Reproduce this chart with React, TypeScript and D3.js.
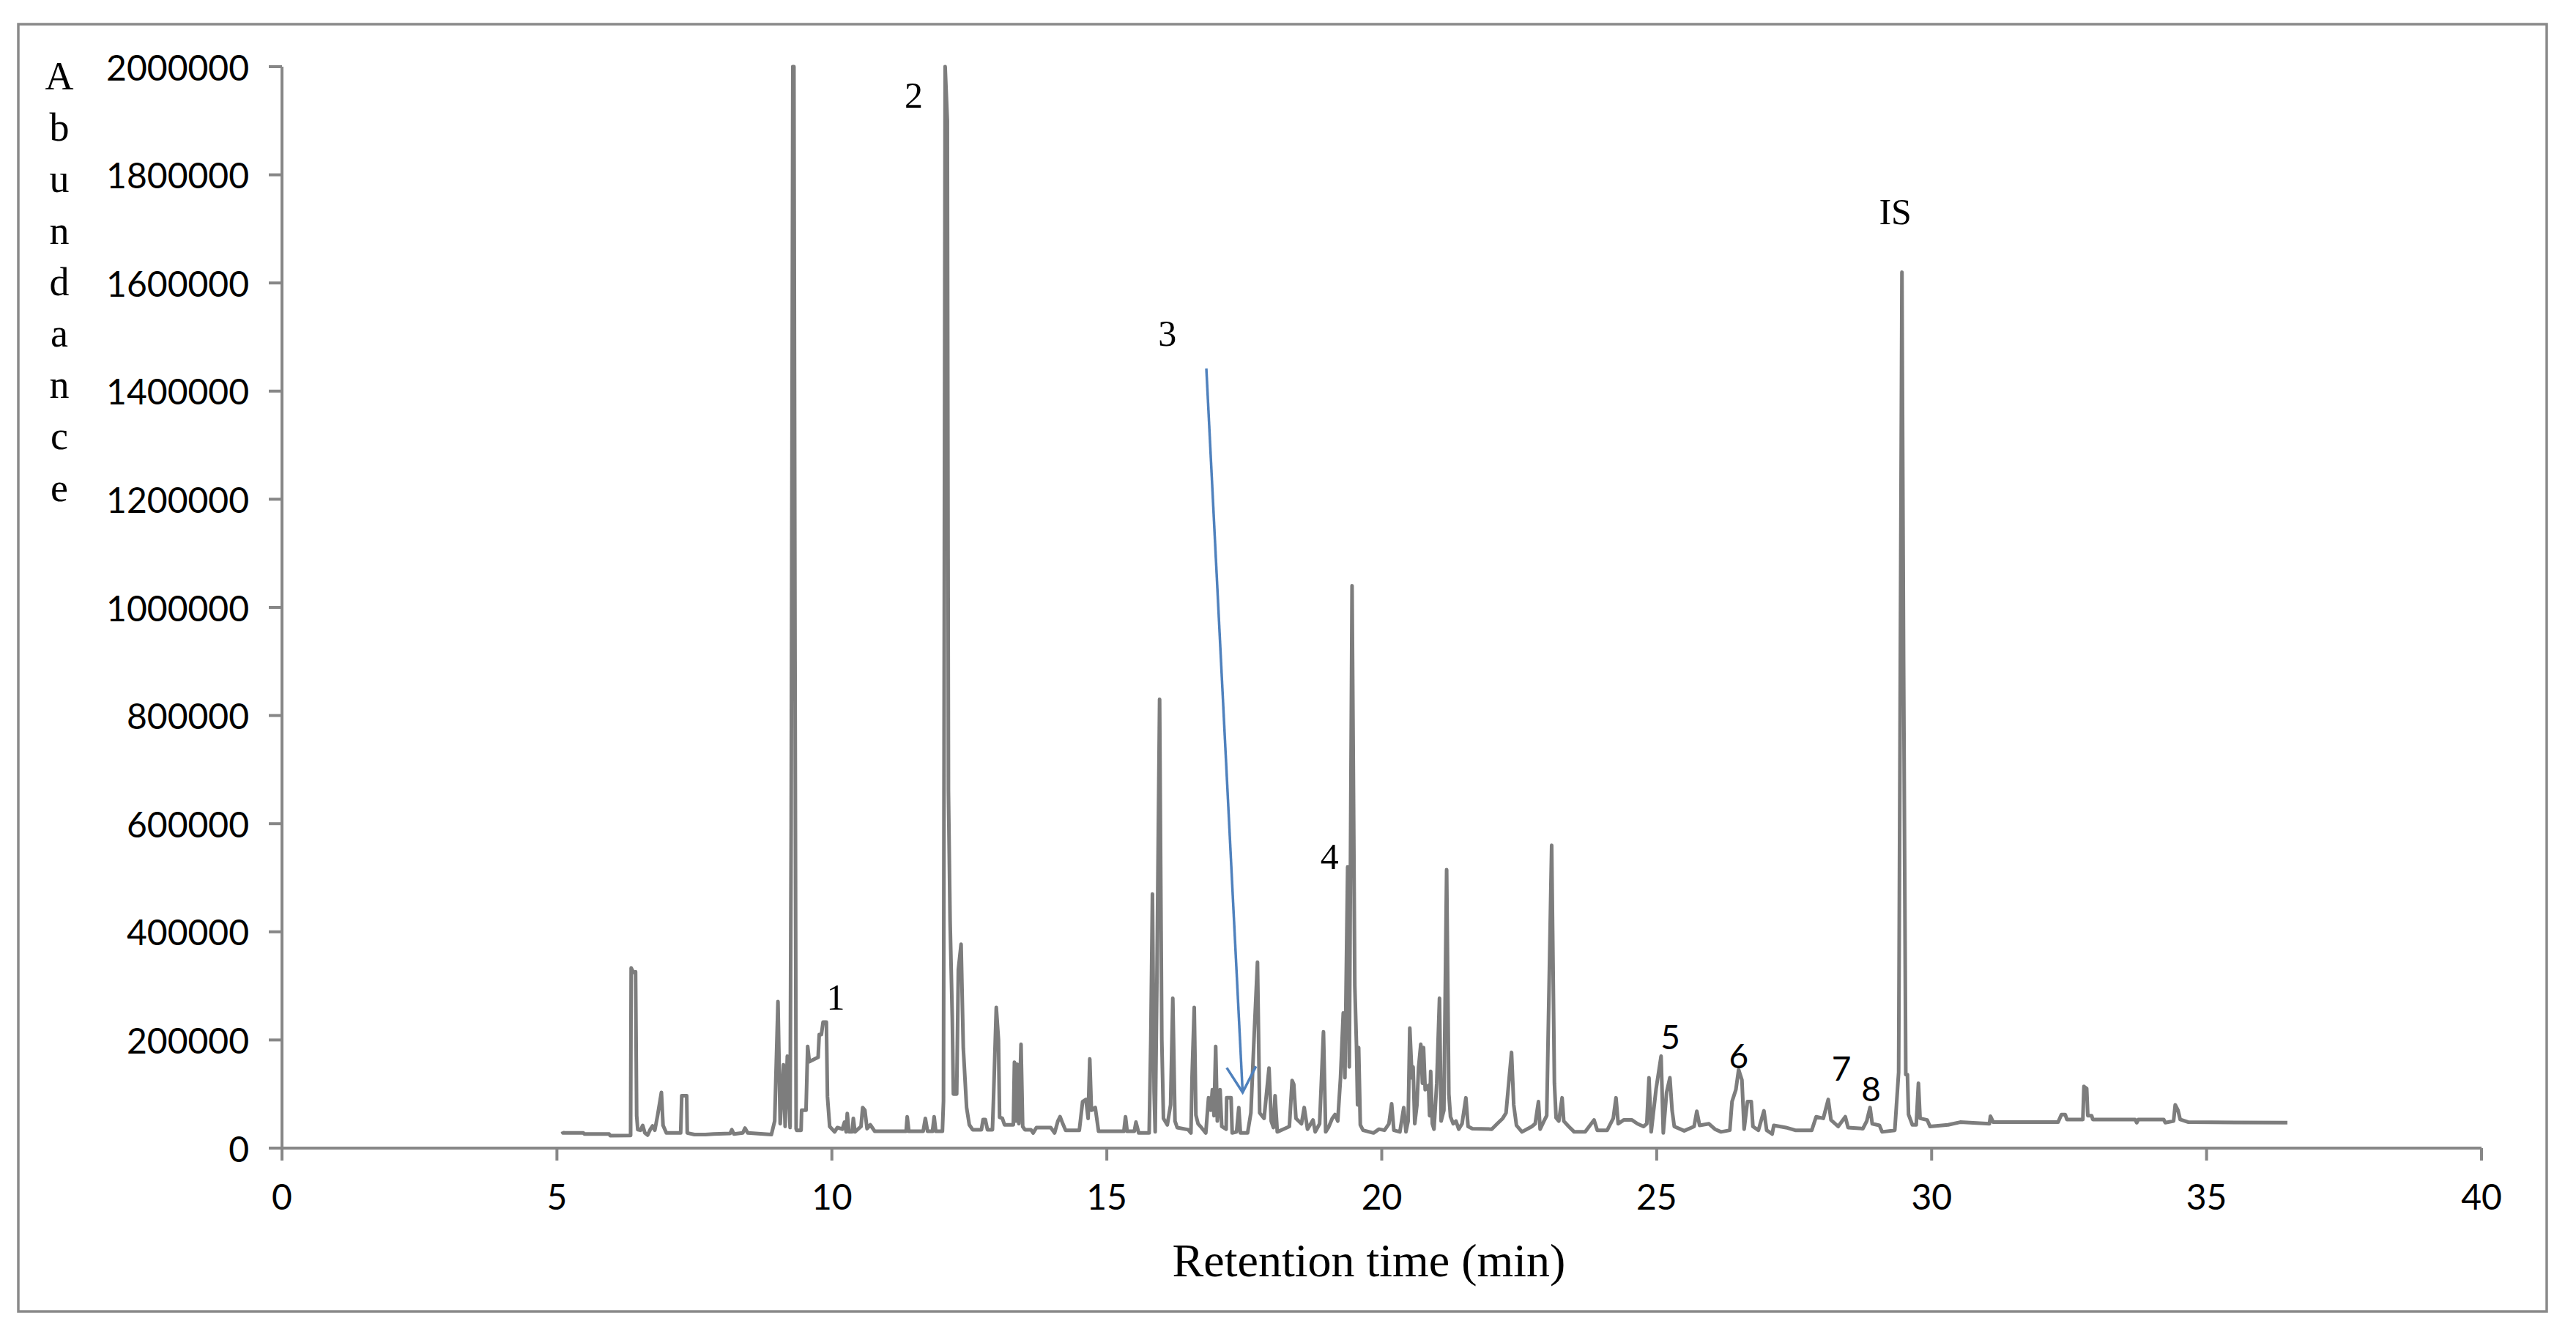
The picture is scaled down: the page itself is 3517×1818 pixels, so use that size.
import React from "react";
import * as d3 from "d3";

// ---- Data ----
const traceTime: number[] = [
  5.10, 5.11, 5.48, 5.50, 5.95, 5.97, 6.34, 6.35, 6.39, 6.43, 6.45, 6.47, 6.52, 6.56, 6.60, 6.65, 6.70, 6.74, 6.78, 6.83, 6.90, 6.93, 6.99,
  7.25, 7.27, 7.36, 7.37, 7.50, 7.70, 7.85, 8.15, 8.18, 8.22, 8.38, 8.42, 8.47, 8.90, 8.96, 9.02, 9.06, 9.12, 9.15, 9.19, 9.24, 9.26, 9.29, 9.31, 9.33, 9.35,
  9.36, 9.44, 9.45, 9.53, 9.56, 9.59, 9.75, 9.77, 9.81, 9.84, 9.90, 9.92, 9.96, 10.05, 10.10,
  10.19, 10.23, 10.26, 10.28, 10.31, 10.37, 10.39, 10.42, 10.53, 10.56, 10.60, 10.64, 10.70, 10.78, 11.35, 11.37, 11.40, 11.66, 11.70, 11.74, 11.83, 11.86, 11.89,
  12.01, 12.03, 12.06, 12.10, 12.12, 12.15, 12.19, 12.21, 12.27, 12.30, 12.35, 12.39, 12.45, 12.50, 12.56, 12.72, 12.75, 12.79, 12.83, 12.92, 12.94, 12.99, 13.03, 13.05,
  13.10, 13.14, 13.30, 13.32, 13.35, 13.37, 13.40, 13.44, 13.47, 13.51, 13.62, 13.66, 13.72, 13.98, 14.05, 14.11, 14.15, 14.20, 14.25, 14.50, 14.56, 14.62, 14.66, 14.69,
  14.72, 14.79, 14.85, 15.31, 15.34, 15.37, 15.50,
  15.53, 15.58, 15.77, 15.80, 15.83, 15.86, 15.88, 15.91, 15.96, 16.00, 16.03, 16.10, 16.16, 16.20, 16.24, 16.28, 16.48, 16.53, 16.55, 16.59, 16.62, 16.66, 16.72, 16.80,
  16.85, 16.89, 16.92, 16.95, 16.98, 17.01, 17.06, 17.09, 17.17, 17.18, 17.26, 17.28, 17.36, 17.40, 17.43, 17.56, 17.62, 17.68, 17.74, 17.78, 17.86, 17.95, 17.99, 18.03,
  18.06, 18.10, 18.21, 18.32, 18.37, 18.40, 18.44, 18.54, 18.59, 18.65, 18.75, 18.79, 18.87, 18.94, 18.98, 19.03, 19.10, 19.15, 19.20, 19.25, 19.30, 19.33, 19.38, 19.41,
  19.46, 19.51, 19.54, 19.56, 19.58, 19.61, 19.66, 19.85, 19.95, 20.05, 20.13, 20.18, 20.22, 20.33, 20.40, 20.44, 20.48, 20.51, 20.55, 20.57, 20.60, 20.64, 20.67, 20.71,
  20.74, 20.76, 20.79,
  20.85, 20.87, 20.89, 20.92, 20.95, 21.00, 21.05, 21.08, 21.13, 21.18, 21.22, 21.25, 21.30, 21.35, 21.40, 21.46, 21.53, 21.57, 21.65, 22.00, 22.10, 22.20, 22.26, 22.36,
  22.40, 22.45, 22.55, 22.73, 22.79, 22.85, 22.88, 22.95, 23.00, 23.09, 23.14, 23.17, 23.22, 23.28, 23.31, 23.40, 23.50, 23.70, 23.86, 23.92, 24.10, 24.21, 24.26, 24.30,
  24.40, 24.55, 24.65, 24.76, 24.82, 24.86, 24.90, 24.99, 25.08, 25.12, 25.18, 25.24, 25.28, 25.32, 25.50, 25.68, 25.73, 25.78, 25.95, 26.06,
  26.17, 26.33, 26.37, 26.44, 26.49, 26.55, 26.59, 26.65, 26.72, 26.75, 26.85, 26.95, 27.00, 27.10, 27.13, 27.35, 27.52, 27.82, 27.90, 28.03, 28.12, 28.17, 28.30, 28.43,
  28.48, 28.75, 28.82, 28.88, 28.92, 29.05, 29.10, 29.33, 29.40, 29.46, 29.49, 29.53, 29.56, 29.58, 29.65, 29.72, 29.76, 29.79, 29.92, 29.97, 30.30, 30.52, 31.05, 31.07,
  31.12, 31.50, 32.30, 32.36, 32.43, 32.46, 32.75, 32.77, 32.82, 32.84, 32.91, 32.93, 33.70, 33.73, 33.76, 34.22, 34.25, 34.40, 34.43, 34.48, 34.52, 34.67, 36.47,
];

const traceAbundance: number[] = [
  31000, 28000, 28000, 26000, 26000, 23000, 23500, 333000, 325000, 326000, 60000, 34000, 33000, 42000, 28000, 24000, 35000, 41000, 33000, 60000, 103000, 42000, 28000,
  28000, 97000, 97000, 28000, 25000, 25000, 26000, 27000, 34000, 26000, 28000, 37000, 28000, 25000, 50000, 271000, 45000, 154000, 40000, 170000, 38000, 600000, 2000000, 2000000, 900000, 36000,
  33000, 33000, 70000, 70000, 188000, 160000, 168000, 210000, 210000, 233000, 233000, 95000, 40000, 30000, 38000,
  35000, 48000, 30000, 64000, 30000, 30000, 55000, 30000, 40000, 75000, 70000, 36000, 43000, 31000, 31000, 58000, 31000, 31000, 55000, 31000, 31000, 58000, 31000,
  31000, 87000, 2000000, 1900000, 660000, 420000, 240000, 100000, 100000, 330000, 377000, 185000, 75000, 43000, 34000, 34000, 53000, 53000, 34000, 34000, 93000, 260000, 200000, 57000,
  55000, 43000, 43000, 159000, 50000, 155000, 45000, 192000, 40000, 34000, 34000, 28000, 38000, 38000, 28000, 50000, 58000, 45000, 33000, 33000, 86000, 90000, 55000, 165000,
  70000, 75000, 31000, 31000, 58000, 31000, 31000,
  48000, 28000, 28000, 200000, 470000, 104000, 30000, 300000, 830000, 200000, 55000, 43000, 80000, 277000, 50000, 38000, 34000, 28000, 130000, 260000, 61000, 45000, 38000, 28000,
  93000, 70000, 108000, 60000, 188000, 50000, 108000, 40000, 35000, 93000, 93000, 28000, 30000, 75000, 28000, 28000, 65000, 209000, 344000, 65000, 55000, 148000, 50000, 38000,
  97000, 30000, 35000, 40000, 125000, 118000, 55000, 45000, 75000, 35000, 52000, 30000, 45000, 215000, 30000, 38000, 55000, 62000, 50000, 130000, 250000, 130000, 520000, 150000,
  1040000, 300000, 192000, 80000, 186000, 43000, 33000, 28000, 35000, 33000, 45000, 82000, 33000, 30000, 75000, 30000, 50000, 222000, 130000, 150000, 45000, 80000, 149000, 192000,
  120000, 186000, 108000,
  116000, 60000, 142000, 45000, 35000, 120000, 277000, 50000, 70000, 515000, 100000, 58000, 45000, 50000, 35000, 45000, 93000, 40000, 36000, 35000, 45000, 55000, 65000, 177000,
  80000, 42000, 30000, 40000, 45000, 86000, 35000, 50000, 60000, 560000, 120000, 56000, 50000, 93000, 50000, 40000, 30000, 30000, 52000, 33000, 33000, 55000, 93000, 45000,
  52000, 52000, 45000, 40000, 45000, 130000, 30000, 110000, 170000, 28000, 103000, 130000, 70000, 40000, 32000, 40000, 68000, 42000, 45000, 35000,
  30000, 33000, 86000, 108000, 145000, 126000, 35000, 86000, 86000, 40000, 33000, 69000, 33000, 26000, 42000, 38000, 33000, 33000, 58000, 55000, 90000, 52000, 40000, 58000,
  38000, 36000, 50000, 75000, 45000, 42000, 30000, 33000, 140000, 1620000, 900000, 136000, 136000, 62000, 43000, 43000, 120000, 55000, 52000, 40000, 43000, 48000, 45000, 59000,
  48000, 48000, 48000, 62000, 62000, 53000, 53000, 114000, 110000, 60000, 60000, 53000, 53000, 47000, 53000, 53000, 47000, 50000, 80000, 70000, 53000, 48000, 47000,
];

const xTicks: number[] = [0, 5, 10, 15, 20, 25, 30, 35, 40];
const yTicks: number[] = [0, 200000, 400000, 600000, 800000, 1000000, 1200000, 1400000, 1600000, 1800000, 2000000];

const peakLabels: string[] = ["1", "2", "3", "4", "5", "6", "7", "8", "IS"];
const peakLabelTime: number[] = [10.07, 11.49, 16.1, 19.05, 25.25, 26.49, 28.36, 28.9, 29.34];
const peakLabelAbundance: number[] = [279000, 1947000, 1507000, 539000, 206000, 172000, 149000, 110000, 1732000];
const peakLabelSerif: boolean[] = [true, true, true, true, false, false, false, false, true];

// arrow for peak 3: [time, abundance] start and end
const arrowStart: [number, number] = [16.81, 1442000];
const arrowEnd: [number, number] = [17.47, 103000];

const yTitleLetters: string[] = ["A", "b", "u", "n", "d", "a", "n", "c", "e"];

const W = 3517;
const H = 1818;

export default function App() {
  const x = d3.scaleLinear().domain([0, 40]).range([385, 3388]);
  const y = d3.scaleLinear().domain([0, 2000000]).range([1567, 91]);

  const pts: [number, number][] = traceTime.map((t, i) => [t, traceAbundance[i]]);
  const line = d3
    .line<[number, number]>()
    .x((d) => x(d[0]))
    .y((d) => y(d[1]));

  const axisColor = "#878787";
  const serif = "'Liberation Serif', 'Times New Roman', serif";
  const sans = "Lato, 'Open Sans', sans-serif";

  // arrow geometry
  const ax1 = x(arrowStart[0]);
  const ay1 = y(arrowStart[1]);
  const ax2 = x(arrowEnd[0]);
  const ay2 = y(arrowEnd[1]);
  const ang = Math.atan2(ay1 - ay2, ax1 - ax2);
  const headLen = 40;
  const spread = (30 * Math.PI) / 180;
  const h1x = ax2 + headLen * Math.cos(ang - spread);
  const h1y = ay2 + headLen * Math.sin(ang - spread);
  const h2x = ax2 + headLen * Math.cos(ang + spread);
  const h2y = ay2 + headLen * Math.sin(ang + spread);

  return (
    <svg
      width={W}
      height={H}
      style={{ position: "absolute", left: 0, top: 0, background: "#fff" }}
      xmlns="http://www.w3.org/2000/svg"
    >
      <rect x={0} y={0} width={W} height={H} fill="#ffffff" />
      {/* outer frame */}
      <rect x={25} y={33} width={3452} height={1757} fill="none" stroke="#8a8a8a" strokeWidth={3.5} />

      {/* trace */}
      <path d={line(pts) || ""} fill="none" stroke="#7d7d7d" strokeWidth={5} strokeLinejoin="round" />

      {/* axes */}
      <line x1={x(0)} y1={y(2000000)} x2={x(0)} y2={y(0)} stroke={axisColor} strokeWidth={4} />
      <line x1={x(0)} y1={y(0)} x2={x(40)} y2={y(0)} stroke={axisColor} strokeWidth={4} />
      {yTicks.map((v) => (
        <g key={"yt" + v}>
          <line x1={x(0) - 18} x2={x(0)} y1={y(v)} y2={y(v)} stroke={axisColor} strokeWidth={4} />
          <text
            x={340}
            y={y(v)}
            textAnchor="end"
            dominantBaseline="central"
            fontFamily={sans}
            fontSize={48}
            fill="#000"
          >
            {String(v)}
          </text>
        </g>
      ))}
      {xTicks.map((t) => (
        <g key={"xt" + t}>
          <line x1={x(t)} x2={x(t)} y1={y(0)} y2={y(0) + 17} stroke={axisColor} strokeWidth={4} />
          <text
            x={x(t)}
            y={1632}
            textAnchor="middle"
            dominantBaseline="central"
            fontFamily={sans}
            fontSize={48}
            fill="#000"
          >
            {String(t)}
          </text>
        </g>
      ))}

      {/* axis titles */}
      <text x={1869} y={1742} textAnchor="middle" fontFamily={serif} fontSize={64} fill="#000">
        Retention time (min)
      </text>
      {yTitleLetters.map((ch, i) => (
        <text
          key={"yl" + i}
          x={81}
          y={122 + i * 70.2}
          textAnchor="middle"
          fontFamily={serif}
          fontSize={54}
          fill="#000"
        >
          {ch}
        </text>
      ))}

      {/* peak labels */}
      {peakLabels.map((lab, i) => (
        <text
          key={"pl" + i}
          x={x(peakLabelTime[i])}
          y={y(peakLabelAbundance[i])}
          textAnchor="middle"
          dominantBaseline="central"
          fontFamily={peakLabelSerif[i] ? serif : sans}
          fontSize={peakLabelSerif[i] ? 50 : 46}
          fill="#000"
        >
          {lab}
        </text>
      ))}

      {/* arrow to peak 3 */}
      <line x1={ax1} y1={ay1} x2={ax2} y2={ay2} stroke="#4f81bd" strokeWidth={3.5} />
      <polyline
        points={`${h1x},${h1y} ${ax2},${ay2} ${h2x},${h2y}`}
        fill="none"
        stroke="#4f81bd"
        strokeWidth={3.5}
      />
    </svg>
  );
}
